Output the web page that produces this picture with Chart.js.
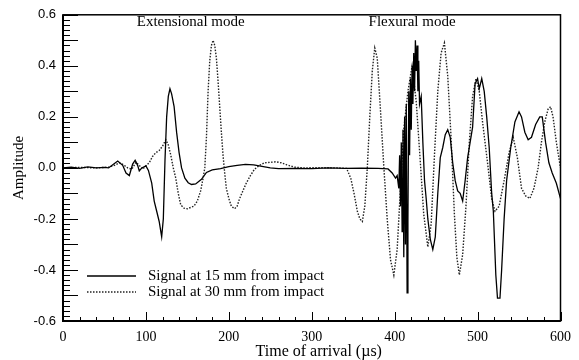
<!DOCTYPE html>
<html>
<head>
<meta charset="utf-8">
<script src="https://cdn.jsdelivr.net/npm/chart.js@4.4.1/dist/chart.umd.min.js"></script>
<style>
  body { margin: 0; background: #fff; }
  #wrap { width: 579px; height: 360px; }
</style>
</head>
<body>
<div id="wrap"><canvas id="chart" width="579" height="360"></canvas></div>
<script>
// Signal at 15 mm (solid): time of arrival (us) and amplitude
const solidTimes = [0, 10, 20, 30, 40, 50, 55, 60, 66, 72, 76, 80, 84, 87, 90, 92, 95, 100, 103, 107, 110, 113, 116, 119, 121, 123, 125, 127, 129, 131, 134, 137, 140, 143, 147, 151, 155, 160, 167, 173, 180, 190, 200, 210, 220, 230, 240, 250, 260, 280, 300, 320, 340, 360, 380, 392, 397, 401, 403, 405, 406, 407, 408, 409, 410, 411, 412, 413, 414, 415, 416, 417, 418, 419, 420, 421, 422, 423, 424, 425, 426, 427, 428, 429, 430, 432, 434, 436, 438, 440, 443, 446, 449, 452, 455, 458, 461, 464, 467, 470, 473, 476, 479, 482, 485, 488, 491, 494, 497, 500, 502, 505, 508, 511, 514, 517, 519, 522, 524, 527, 529, 532, 535, 540, 545, 550, 553, 557, 561, 565, 570, 575, 578, 582, 586, 590, 595, 600];
const solidAmps = [0, 0.003, -0.002, 0.004, 0, 0.002, 0, 0.012, 0.027, 0.01, -0.02, -0.03, 0.015, 0.03, 0.01, -0.012, 0, 0.008, -0.01, -0.06, -0.13, -0.17, -0.21, -0.27, -0.2, 0.03, 0.2, 0.28, 0.31, 0.29, 0.24, 0.14, 0.06, 0, -0.04, -0.058, -0.065, -0.063, -0.045, -0.018, -0.008, -0.003, 0.005, 0.01, 0.014, 0.012, 0.006, 0, -0.003, -0.002, -0.003, 0, -0.002, -0.001, -0.002, -0.004, -0.02, -0.04, -0.03, -0.08, 0.05, -0.15, 0.1, -0.25, 0.15, -0.35, 0.2, -0.3, 0.25, -0.49, -0.2, 0.3, 0.05, 0.35, 0.15, 0.4, 0.25, 0.45, 0.3, 0.5, 0.38, 0.48, 0.3, 0.42, 0.25, 0.28, 0.1, -0.05, -0.12, -0.2, -0.28, -0.32, -0.27, -0.1, 0.04, 0.08, 0.13, 0.15, 0.12, 0.02, -0.05, -0.09, -0.1, -0.13, -0.05, 0.04, 0.1, 0.16, 0.33, 0.35, 0.31, 0.35, 0.3, 0.2, 0.08, -0.1, -0.17, -0.42, -0.51, -0.51, -0.4, -0.2, -0.05, 0.08, 0.18, 0.22, 0.2, 0.14, 0.11, 0.12, 0.17, 0.2, 0.2, 0.1, 0.02, -0.02, -0.06, -0.12];

// Signal at 30 mm (dotted)
const dottedTimes = [0, 20, 40, 55, 62, 68, 73, 78, 83, 88, 92, 96, 100, 104, 108, 112, 116, 120, 124, 127, 130, 133, 136, 139, 142, 146, 150, 154, 158, 162, 166, 169, 171, 173, 175, 177, 179, 181, 183, 185, 187, 189, 191, 193, 195, 197, 200, 203, 207, 210, 213, 217, 221, 226, 231, 237, 243, 250, 257, 263, 270, 279, 290, 310, 330, 342, 347, 351, 355, 358, 361, 364, 367, 370, 373, 376, 379, 383, 387, 391, 395, 399, 403, 407, 411, 416, 421, 426, 431, 435, 440, 444, 448, 452, 456, 460, 464, 468, 472, 475, 478, 482, 486, 490, 494, 498, 502, 506, 512, 517, 521, 526, 532, 538, 543, 548, 553, 558, 563, 568, 573, 577, 581, 585, 588, 591, 595, 600];
const dottedAmps = [0, 0.002, 0, 0.003, 0.01, 0.02, 0.012, 0, -0.005, 0.022, 0.01, -0.005, 0.008, 0.02, 0.045, 0.06, 0.068, 0.085, 0.11, 0.09, 0.05, 0, -0.04, -0.1, -0.145, -0.158, -0.16, -0.155, -0.15, -0.13, -0.09, -0.04, 0, 0.12, 0.3, 0.42, 0.48, 0.5, 0.48, 0.43, 0.34, 0.24, 0.14, 0.05, -0.02, -0.08, -0.12, -0.15, -0.16, -0.15, -0.12, -0.09, -0.06, -0.03, -0.005, 0.01, 0.02, 0.022, 0.024, 0.02, 0.012, 0.003, 0, 0.001, 0, -0.002, -0.04, -0.1, -0.17, -0.2, -0.21, -0.15, 0, 0.2, 0.38, 0.47, 0.43, 0.22, 0, -0.2, -0.36, -0.42, -0.32, -0.08, 0.15, 0.3, 0.4, 0.26, 0.02, -0.18, -0.31, -0.22, 0.05, 0.3, 0.45, 0.49, 0.36, 0.12, -0.18, -0.35, -0.42, -0.34, -0.15, 0.1, 0.28, 0.35, 0.3, 0.18, 0.02, -0.12, -0.17, -0.15, -0.05, 0.06, 0.12, 0.04, -0.08, -0.11, -0.12, -0.08, 0, 0.1, 0.18, 0.23, 0.24, 0.2, 0.1, 0];

const seriesLabels = ['Signal at 15 mm from impact', 'Signal at 30 mm from impact'];
const modeLabels = ['Extensional mode', 'Flexural mode'];
const xTitle = 'Time of arrival (\u00b5s)';

const SERIF = "'Liberation Serif', 'Times New Roman', serif";
const SANS = "'Liberation Sans', Arial, sans-serif";

const toPoints = (xs, ys) => xs.map((t, i) => ({ x: t, y: ys[i] }));

// Marco y marcas hacia dentro
const frameTicks = {
  id: 'frameTicks',
  afterDatasetsDraw(chart) {
    const { ctx, chartArea: a, scales: { x, y } } = chart;
    ctx.save();
    ctx.strokeStyle = '#000';
    ctx.lineWidth = 1;
    ctx.beginPath();
    for (let t = 0; t <= 600; t += 20) {
      const px = Math.round(x.getPixelForValue(t)) + 0.5;
      const len = t % 100 === 0 ? 9 : 4;
      ctx.moveTo(px, a.bottom);
      ctx.lineTo(px, a.bottom - len);
    }
    for (let i = -30; i <= 30; i++) {
      const py = Math.round(y.getPixelForValue(i * 0.02)) + 0.5;
      const len = i % 5 === 0 ? 15 : 7;
      ctx.moveTo(a.left, py);
      ctx.lineTo(a.left + len, py);
    }
    ctx.stroke();
    ctx.lineWidth = 1.5;
    ctx.strokeRect(a.left, a.top, a.right - a.left, a.bottom - a.top);
    ctx.lineWidth = 2;
    ctx.beginPath();
    ctx.moveTo(a.left, a.top);
    ctx.lineTo(a.left, a.bottom);
    ctx.lineTo(a.right, a.bottom);
    ctx.stroke();
    ctx.restore();
  }
};

// Leyenda interior, etiquetas de modo y título del eje x
const notes = {
  id: 'notes',
  afterDraw(chart) {
    const { ctx, chartArea: a, scales: { x, y } } = chart;
    ctx.save();
    ctx.fillStyle = '#000';
    ctx.font = '15px ' + SERIF;
    ctx.textBaseline = 'middle';
    ctx.textAlign = 'center';
    ctx.fillText(modeLabels[0], x.getPixelForValue(154), y.getPixelForValue(0.57));
    ctx.fillText(modeLabels[1], x.getPixelForValue(421), y.getPixelForValue(0.57));

    ctx.font = '16px ' + SERIF;
    ctx.fillText(xTitle, (a.left + a.right) / 2 + 7, chart.height - 8);

    ctx.font = '15px ' + SERIF;
    ctx.textAlign = 'left';
    chart.data.datasets.forEach((ds, i) => {
      const ly = a.bottom - 45 + i * 16;
      ctx.strokeStyle = ds.borderColor;
      ctx.lineWidth = ds.borderWidth;
      ctx.setLineDash(ds.borderDash || []);
      ctx.beginPath();
      ctx.moveTo(a.left + 24, ly);
      ctx.lineTo(a.left + 73, ly);
      ctx.stroke();
      ctx.setLineDash([]);
      ctx.fillText(ds.label, a.left + 85, ly);
    });
    ctx.restore();
  }
};

new Chart(document.getElementById('chart'), {
  type: 'line',
  data: {
    datasets: [
      {
        label: seriesLabels[0],
        data: toPoints(solidTimes, solidAmps),
        borderColor: '#000',
        borderWidth: 1.3,
        pointRadius: 0,
        tension: 0,
      },
      {
        label: seriesLabels[1],
        data: toPoints(dottedTimes, dottedAmps),
        borderColor: '#222',
        borderWidth: 1.4,
        borderDash: [1.5, 1.5],
        pointRadius: 0,
        tension: 0,
      },
    ],
  },
  options: {
    responsive: false,
    animation: false,
    layout: { padding: { top: 14, right: 13, left: 0, bottom: 0 } },
    plugins: {
      legend: { display: false },
      tooltip: { enabled: false },
    },
    scales: {
      x: {
        type: 'linear',
        min: 0,
        max: 600,
        grid: { display: false, drawTicks: false },
        border: { display: false },
        ticks: {
          stepSize: 100,
          padding: 8,
          color: '#000',
          font: { family: SERIF, size: 14 },
        },
        afterFit(scale) { scale.height = 39; },
      },
      y: {
        min: -0.6,
        max: 0.6,
        grid: { display: false, drawTicks: false },
        border: { display: false },
        ticks: {
          stepSize: 0.2,
          padding: 7,
          color: '#000',
          font: { family: SANS, size: 13 },
          callback: v => (Math.abs(v) < 1e-9 ? 0 : v).toFixed(1),
        },
        title: {
          display: true,
          text: 'Amplitude',
          color: '#000',
          font: { family: SERIF, size: 15, lineHeight: 1 },
          padding: { top: 12, bottom: 0 },
        },
        afterFit(scale) { scale.width = 63; },
      },
    },
  },
  plugins: [frameTicks, notes],
});
</script>
</body>
</html>
